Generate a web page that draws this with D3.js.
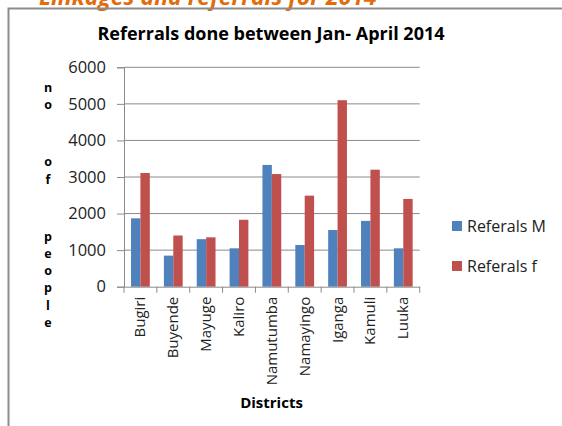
<!DOCTYPE html>
<html>
<head>
<meta charset="utf-8">
<script src="https://cdn.jsdelivr.net/npm/d3@7/dist/d3.min.js"></script>
<style>
  html, body { margin: 0; padding: 0; background: #fff; }
  svg { display: block; }
  text { font-family: "Open Sans", "Liberation Sans", sans-serif; fill: #000; }
</style>
</head>
<body>
<svg id="chart" width="562" height="426"></svg>
<script>
// Referrals by district, Jan–April 2014
const districts = ["Bugiri", "Buyende", "Mayuge", "Kaliro", "Namutumba", "Namayingo", "Iganga", "Kamuli", "Luuka"];
const referalsM = [1870, 850, 1300, 1050, 3330, 1140, 1550, 1800, 1050];
const referalsF = [3110, 1400, 1350, 1830, 3080, 2490, 5100, 3200, 2400];
const seriesNames = ["Referals M", "Referals f"];
const seriesColors = ["#4F81BD", "#C0504D"];
const yTicks = [0, 1000, 2000, 3000, 4000, 5000, 6000];
const yTitle = "no  of  people";
const xTitle = "Districts";
const chartTitle = "Referrals done between Jan- April 2014";
const heading = "Linkages and referrals for 2014";

const svg = d3.select("#chart");

// section heading above the chart frame (runs off the top of the page)
svg.append("text")
  .attr("x", 39).attr("y", 5)
  .attr("font-family", "Liberation Sans, Arial, sans-serif")
  .attr("font-size", 23).attr("font-weight", "bold").attr("font-style", "italic")
  .style("fill", "#E36C0A")
  .text(heading);

// chart frame
svg.append("path")
  .attr("d", "M8.5,426 V8.5 H562")
  .attr("fill", "none").attr("stroke", "#8c8c8c").attr("stroke-width", 2);

const plot = { left: 124, right: 419.7, top: 67.3, bottom: 286.7 };

const x = d3.scaleBand().domain(districts).range([plot.left, plot.right]).paddingInner(0).paddingOuter(0);
const y = d3.scaleLinear().domain([0, 6000]).range([plot.bottom, plot.top]);
const barW = x.bandwidth() / 3.5;
const sub = d3.scaleBand().domain([0, 1]).range([(x.bandwidth() - 2 * barW) / 2, (x.bandwidth() + 2 * barW) / 2]);

// gridlines
svg.append("g")
  .selectAll("line").data(yTicks.filter(d => d > 0)).join("line")
  .attr("x1", plot.left).attr("x2", plot.right)
  .attr("y1", d => y(d)).attr("y2", d => y(d))
  .attr("stroke", "#8a8a8a").attr("stroke-width", 1);

// y axis
const yAxis = svg.append("g")
  .attr("transform", `translate(${plot.left},0)`)
  .call(d3.axisLeft(y).tickValues(yTicks).tickSize(7).tickPadding(11).tickFormat(d3.format("d")));
yAxis.select(".domain").attr("stroke", "#8a8a8a");
yAxis.selectAll(".tick line").attr("stroke", "#8a8a8a");
yAxis.selectAll(".tick text").attr("font-size", 16.5).attr("font-family", "Open Sans, sans-serif").style("fill", "#222");

// bars
const rows = districts.map((d, i) => ({ d, vals: [referalsM[i], referalsF[i]] }));
const groups = svg.append("g").selectAll("g").data(rows).join("g")
  .attr("transform", r => `translate(${x(r.d)},0)`);
groups.selectAll("rect").data(r => r.vals.map((v, k) => ({ v, k }))).join("rect")
  .attr("x", e => sub(e.k))
  .attr("width", barW)
  .attr("y", e => y(e.v))
  .attr("height", e => y(0) - y(e.v))
  .attr("fill", e => seriesColors[e.k]);

// x axis
const xAxis = svg.append("g")
  .attr("transform", `translate(0,${plot.bottom})`)
  .call(d3.axisBottom(x).tickSize(0).tickPadding(0));
xAxis.select(".domain").attr("stroke", "#8a8a8a");
xAxis.selectAll(".tick text")
  .attr("font-size", 15).attr("font-family", "Open Sans, sans-serif").style("fill", "#222")
  .attr("text-anchor", "end")
  .attr("transform", "rotate(-90)")
  .attr("x", -10).attr("y", 5).attr("dy", null);
// category boundary ticks
svg.append("g").selectAll("line")
  .data(districts.map(d => x(d)).concat([plot.right])).join("line")
  .attr("x1", d => d).attr("x2", d => d)
  .attr("y1", plot.bottom).attr("y2", plot.bottom + 6)
  .attr("stroke", "#8a8a8a");

// chart title
svg.append("text")
  .attr("x", 271).attr("y", 39.5).attr("text-anchor", "middle")
  .attr("font-size", 18).attr("font-weight", "bold")
  .text(chartTitle);

// x title
svg.append("text")
  .attr("x", 271.5).attr("y", 408).attr("text-anchor", "middle")
  .attr("font-size", 15).attr("font-weight", "bold")
  .text(xTitle);

// stacked y title, one character per line
let yy = 92;
const yt = svg.append("g");
Array.from(yTitle).forEach(ch => {
  if (ch === " ") { yy += 20; return; }
  yt.append("text").attr("x", 48).attr("y", yy).attr("text-anchor", "middle")
    .attr("font-size", 12.5).attr("font-weight", "bold").text(ch);
  yy += 17.2;
});

// legend
const leg = svg.append("g").selectAll("g").data(seriesNames).join("g")
  .attr("transform", (d, i) => `translate(452,${221 + i * 40})`);
leg.append("rect").attr("width", 10).attr("height", 10).attr("fill", (d, i) => seriesColors[i]);
leg.append("text").attr("x", 15).attr("y", 10.5).attr("font-size", 16).style("fill", "#222").text(d => d);
</script>
</body>
</html>
